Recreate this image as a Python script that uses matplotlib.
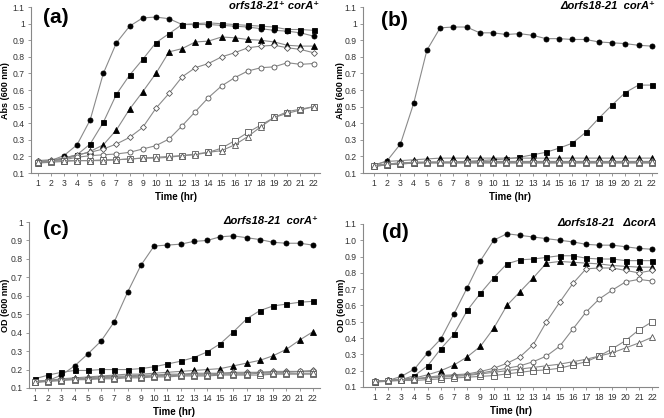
import numpy as np
import matplotlib.pyplot as plt
from matplotlib.ticker import FormatStrFormatter

plt.rcParams['font.family'] = ['Liberation Sans', 'DejaVu Sans']

hours = np.arange(1, 23)

# panel (a): orfs18-21+ corA+
a_fcirc = [0.165, 0.175, 0.205, 0.27, 0.42, 0.70, 0.885, 0.985, 1.035, 1.04, 1.03, 0.995,
           0.995, 0.995, 0.99, 0.985, 0.98, 0.97, 0.96, 0.955, 0.945, 0.925]
a_fsq = [0.16, 0.17, 0.19, 0.21, 0.275, 0.405, 0.575, 0.69, 0.785, 0.885, 0.94, 0.995,
         1.0, 1.005, 1.0, 0.995, 0.99, 0.985, 0.98, 0.965, 0.965, 0.96]
a_ftri = [0.17, 0.175, 0.185, 0.205, 0.23, 0.27, 0.36, 0.485, 0.59, 0.70, 0.83, 0.85,
          0.89, 0.895, 0.92, 0.915, 0.905, 0.90, 0.89, 0.87, 0.865, 0.865]
a_odia = [0.175, 0.18, 0.19, 0.21, 0.225, 0.245, 0.275, 0.315, 0.375, 0.49, 0.58, 0.68,
          0.735, 0.76, 0.80, 0.825, 0.855, 0.865, 0.87, 0.855, 0.845, 0.825]
a_ocirc = [0.17, 0.175, 0.18, 0.195, 0.205, 0.21, 0.215, 0.225, 0.245, 0.265, 0.305, 0.385,
           0.47, 0.555, 0.625, 0.675, 0.715, 0.735, 0.74, 0.765, 0.755, 0.76]
a_osq = [0.16, 0.165, 0.17, 0.175, 0.175, 0.18, 0.18, 0.185, 0.19, 0.195, 0.20, 0.205,
         0.215, 0.225, 0.25, 0.295, 0.345, 0.39, 0.435, 0.46, 0.48, 0.50]
a_otri = [0.165, 0.17, 0.175, 0.175, 0.175, 0.175, 0.18, 0.185, 0.19, 0.19, 0.195, 0.205,
          0.21, 0.225, 0.235, 0.27, 0.32, 0.38, 0.435, 0.47, 0.485, 0.50]

# panel (b): delta orfs18-21 corA+
b_fcirc = [0.145, 0.175, 0.275, 0.52, 0.84, 0.975, 0.98, 0.98, 0.945, 0.945, 0.935, 0.94,
           0.93, 0.91, 0.91, 0.905, 0.905, 0.89, 0.885, 0.88, 0.87, 0.865]
b_fsq = [0.14, 0.15, 0.155, 0.16, 0.165, 0.165, 0.165, 0.17, 0.175, 0.18, 0.185, 0.195,
         0.21, 0.225, 0.25, 0.28, 0.345, 0.43, 0.51, 0.585, 0.63, 0.63]
b_ftri = [0.15, 0.17, 0.175, 0.18, 0.185, 0.19, 0.19, 0.19, 0.19, 0.19, 0.19, 0.19,
          0.19, 0.19, 0.19, 0.19, 0.19, 0.19, 0.19, 0.19, 0.19, 0.19]
b_odia = [0.145, 0.155, 0.16, 0.165, 0.165, 0.165, 0.165, 0.17, 0.17, 0.17, 0.17, 0.17,
          0.17, 0.17, 0.17, 0.17, 0.17, 0.17, 0.17, 0.17, 0.17, 0.17]
b_ocirc = [0.14, 0.155, 0.16, 0.16, 0.165, 0.165, 0.165, 0.165, 0.165, 0.165, 0.165, 0.165,
           0.165, 0.165, 0.165, 0.165, 0.165, 0.165, 0.165, 0.165, 0.165, 0.165]
b_osq = [0.14, 0.15, 0.155, 0.16, 0.16, 0.16, 0.16, 0.16, 0.16, 0.16, 0.16, 0.16,
         0.16, 0.16, 0.16, 0.16, 0.16, 0.16, 0.16, 0.16, 0.16, 0.16]
b_otri = [0.145, 0.155, 0.16, 0.165, 0.165, 0.165, 0.165, 0.165, 0.165, 0.165, 0.165, 0.165,
          0.165, 0.165, 0.165, 0.165, 0.165, 0.165, 0.165, 0.165, 0.165, 0.165]

# panel (c): delta orfs18-21 corA+
c_fcirc = [0.135, 0.14, 0.17, 0.22, 0.285, 0.355, 0.46, 0.62, 0.765, 0.87, 0.875, 0.88,
           0.895, 0.90, 0.92, 0.925, 0.915, 0.905, 0.89, 0.885, 0.885, 0.875]
c_fsq = [0.15, 0.17, 0.185, 0.195, 0.195, 0.20, 0.20, 0.20, 0.205, 0.215, 0.23, 0.245,
         0.265, 0.295, 0.34, 0.405, 0.475, 0.52, 0.545, 0.555, 0.565, 0.57]
c_ftri = [0.135, 0.14, 0.15, 0.155, 0.16, 0.165, 0.17, 0.175, 0.175, 0.18, 0.185, 0.19,
          0.195, 0.20, 0.205, 0.22, 0.235, 0.25, 0.275, 0.31, 0.36, 0.405]
c_odia = [0.135, 0.14, 0.145, 0.15, 0.155, 0.16, 0.165, 0.165, 0.17, 0.17, 0.175, 0.175,
          0.18, 0.18, 0.18, 0.185, 0.185, 0.185, 0.19, 0.19, 0.19, 0.195]
c_ocirc = [0.13, 0.14, 0.145, 0.15, 0.15, 0.155, 0.16, 0.16, 0.165, 0.165, 0.17, 0.17,
           0.175, 0.175, 0.18, 0.18, 0.18, 0.185, 0.185, 0.185, 0.19, 0.19]
c_osq = [0.13, 0.135, 0.14, 0.145, 0.145, 0.15, 0.15, 0.155, 0.155, 0.16, 0.16, 0.165,
         0.165, 0.165, 0.17, 0.17, 0.17, 0.17, 0.175, 0.175, 0.175, 0.175]
c_otri = [0.135, 0.14, 0.145, 0.15, 0.15, 0.155, 0.155, 0.16, 0.16, 0.165, 0.165, 0.17,
          0.17, 0.17, 0.175, 0.175, 0.175, 0.18, 0.18, 0.18, 0.18, 0.18]

# panel (d): delta orfs18-21 delta corA
d_fcirc = [0.135, 0.14, 0.165, 0.21, 0.31, 0.395, 0.55, 0.71, 0.875, 1.0, 1.04, 1.03,
           1.02, 1.01, 1.0, 0.99, 0.975, 0.97, 0.97, 0.96, 0.95, 0.945]
d_fsq = [0.13, 0.14, 0.145, 0.17, 0.23, 0.335, 0.425, 0.57, 0.675, 0.77, 0.855, 0.88,
         0.885, 0.895, 0.905, 0.905, 0.89, 0.885, 0.885, 0.875, 0.875, 0.875]
d_ftri = [0.135, 0.14, 0.15, 0.155, 0.175, 0.20, 0.235, 0.285, 0.35, 0.46, 0.60, 0.685,
          0.77, 0.86, 0.87, 0.865, 0.86, 0.855, 0.845, 0.84, 0.835, 0.835]
d_odia = [0.135, 0.14, 0.145, 0.15, 0.16, 0.17, 0.175, 0.18, 0.195, 0.215, 0.245, 0.285,
          0.36, 0.50, 0.62, 0.735, 0.825, 0.83, 0.83, 0.815, 0.80, 0.815]
d_ocirc = [0.135, 0.14, 0.145, 0.15, 0.155, 0.165, 0.17, 0.175, 0.185, 0.20, 0.215, 0.23,
           0.255, 0.29, 0.35, 0.455, 0.56, 0.64, 0.695, 0.745, 0.76, 0.75]
d_osq = [0.13, 0.135, 0.14, 0.14, 0.145, 0.15, 0.155, 0.16, 0.165, 0.17, 0.18, 0.19,
         0.20, 0.205, 0.215, 0.235, 0.255, 0.29, 0.335, 0.385, 0.45, 0.50]
d_otri = [0.135, 0.14, 0.145, 0.15, 0.155, 0.16, 0.165, 0.17, 0.18, 0.19, 0.20, 0.21,
          0.22, 0.23, 0.24, 0.255, 0.27, 0.29, 0.31, 0.34, 0.37, 0.405]

# marker style for the 7 series, in order
styles = [('o', 'black', 3.6), ('s', 'black', 3.6), ('^', 'black', 3.8),
          ('D', 'white', 3.0), ('o', 'white', 3.6), ('s', 'white', 3.8), ('^', 'white', 4.0)]

panels = [
    dict(series=[a_fcirc, a_fsq, a_ftri, a_odia, a_ocirc, a_osq, a_otri],
         rect=[0.0467, 0.586, 0.4355, 0.397], xlim=(0.5, 22.5), ylim=(0.1, 1.1),
         ylabel='Abs (600 nm)', ylx=-0.074, letter='(a)', lpos=(0.04, 0.94),
         title='orfs18-21\u207a corA\u207a', fmt=None),
    dict(series=[b_fcirc, b_fsq, b_ftri, b_odia, b_ocirc, b_osq, b_otri],
         rect=[0.5467, 0.586, 0.4428, 0.397], xlim=(0.17, 22.4), ylim=(0.1, 1.1),
         ylabel='Abs (600 nm)', ylx=-0.061, letter='(b)', lpos=(0.06, 0.92),
         title='\u0394orfs18-21  corA\u207a', fmt=None),
    dict(series=[c_fcirc, c_fsq, c_ftri, c_odia, c_ocirc, c_osq, c_otri],
         rect=[0.0437, 0.0718, 0.4375, 0.397], xlim=(0.55, 22.5), ylim=(0.1, 1.0),
         ylabel='OD (600 nm)', ylx=-0.066, letter='(c)', lpos=(0.048, 0.955),
         title='\u0394orfs18-21  corA\u207a', fmt=None),
    dict(series=[d_fcirc, d_fsq, d_ftri, d_odia, d_ocirc, d_osq, d_otri],
         rect=[0.5467, 0.0742, 0.4443, 0.390], xlim=(0.1, 22.45), ylim=(0.1, 1.1),
         ylabel='OD (600 nm)', ylx=-0.058, letter='(d)', lpos=(0.065, 0.95),
         title='\u0394orfs18-21   \u0394corA', fmt='%.1f'),
]

fig = plt.figure(figsize=(6.64, 4.18), dpi=100)

for p in panels:
    ax = fig.add_axes(p['rect'])
    for vals, (mk, fc, ms) in zip(p['series'], styles):
        ax.plot(hours, vals, color='#8a8a8a', lw=0.8, marker=mk, ms=ms,
                mfc=fc, mec='black' if fc == 'black' else '#555555', mew=0.6, zorder=3)
    ax.set_xlim(*p['xlim'])
    ax.set_ylim(*p['ylim'])
    ax.set_xticks(hours)
    ax.set_yticks(np.arange(0.1, p['ylim'][1] + 0.001, 0.1))
    if p['fmt']:
        ax.yaxis.set_major_formatter(FormatStrFormatter(p['fmt']))
    else:
        ax.set_yticklabels(['%g' % round(v, 1) for v in ax.get_yticks()])
    for s in ['top', 'right']:
        ax.spines[s].set_visible(False)
    for s in ['left', 'bottom']:
        ax.spines[s].set_color('#888888')
        ax.spines[s].set_linewidth(0.8)
    ax.tick_params(direction='out', length=2.5, width=0.6, color='#888888',
                   labelsize=6.2, labelcolor='#333333', pad=2)
    ax.set_xlabel('Time (hr)', fontsize=7, fontweight='bold', labelpad=3)
    ax.set_ylabel(p['ylabel'], fontsize=6.5, fontweight='bold')
    ax.yaxis.set_label_coords(p['ylx'], 0.5)
    ax.text(p['lpos'][0], p['lpos'][1], p['letter'], transform=ax.transAxes, fontsize=15,
            fontweight='bold', va='center', ha='left')
    ax.text(0.995, 1.005, p['title'], transform=ax.transAxes, fontsize=8,
            fontweight='bold', style='italic', va='center', ha='right',
            family=['Liberation Sans', 'DejaVu Sans'])

fig.savefig('out.png', dpi=100)
